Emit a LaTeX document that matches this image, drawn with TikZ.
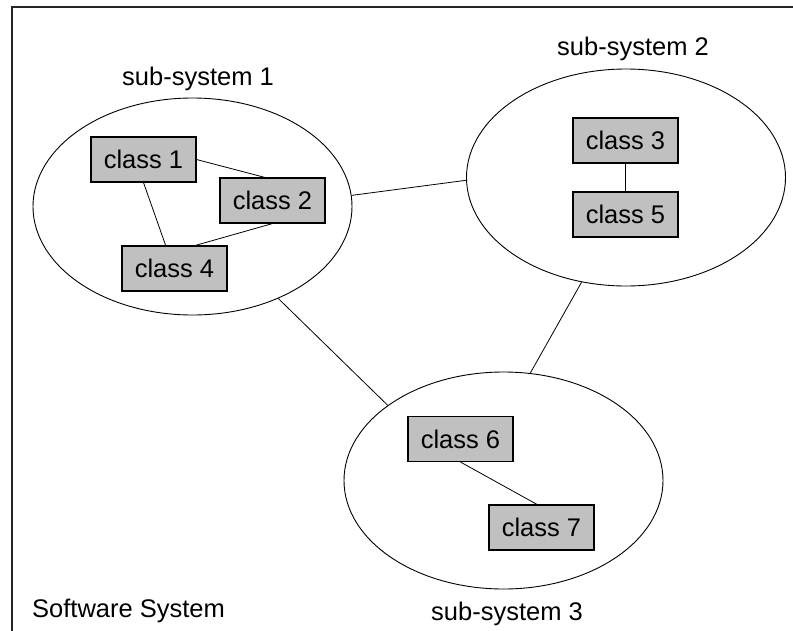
\documentclass[tikz,border=0pt]{standalone}
\usepackage{fontspec}
\setmainfont{Liberation Sans}
\usetikzlibrary{shapes.geometric}
\definecolor{boxgray}{RGB}{192,192,192}
\tikzset{
  classbox/.style={draw=black, fill=boxgray, line width=1.1pt, minimum width=105pt, minimum height=45pt, inner sep=0pt, font=\fontsize{25.5}{30}\selectfont},
  subsys/.style={draw=black, ellipse, line width=0.9pt, minimum width=319pt, minimum height=217pt, inner sep=0pt},
  link/.style={draw=black, line width=0.8pt},
  lbl/.style={font=\fontsize{25.5}{30}\selectfont, inner sep=0pt, anchor=base},
  frameline/.style={draw=black!85, line width=1.8pt}
}
\begin{document}
\begin{tikzpicture}[x=1pt, y=-1pt]
\useasboundingbox (0,0) rectangle (793,630);
\fill[white] (0,0) rectangle (793,630);
% frame
\coordinate (ftr) at (800,7);
\coordinate (ftl) at (12,7);
\coordinate (fbl) at (12,640);
\draw[frameline] (ftr) -- (ftl) -- (fbl);
% sub-systems
\node[subsys] (e1) at (192.5,206.5) {};
\node[subsys] (e2) at (626,177.5) {};
\node[subsys] (e3) at (503.5,480.5) {};
% labels
\node[lbl] (l1) at (198,85) {sub-system 1};
\node[lbl] (l2) at (633,55) {sub-system 2};
\node[lbl] (l3) at (507,620) {sub-system 3};
\node[lbl, anchor=base west] (l0) at (32,617) {Software System};
% classes
\node[classbox] (c1) at (143.5,159.5) {class 1};
\node[classbox] (c2) at (272.5,200.5) {class 2};
\node[classbox] (c4) at (174.5,268.5) {class 4};
\node[classbox] (c3) at (625.5,140.5) {class 3};
\node[classbox] (c5) at (625.5,214.5) {class 5};
\node[classbox] (c6) at (460.5,439) {class 6};
\node[classbox] (c7) at (541.5,527.5) {class 7};
% class links
\draw[link] (c1.east) -- (c2.108);
\draw[link] (c1.south) -- (c4.111);
\draw[link] (c2.south) -- (c4.48);
\draw[link] (c3.south) -- (c5.north);
\draw[link] (c6.south) -- (c7.101);
% sub-system links
\draw[link] (e1.4) -- (e2.181);
\draw[link] (e1.-47) -- (e3.147);
\draw[link] (e2.247) -- (e3.76);
\end{tikzpicture}
\end{document}
